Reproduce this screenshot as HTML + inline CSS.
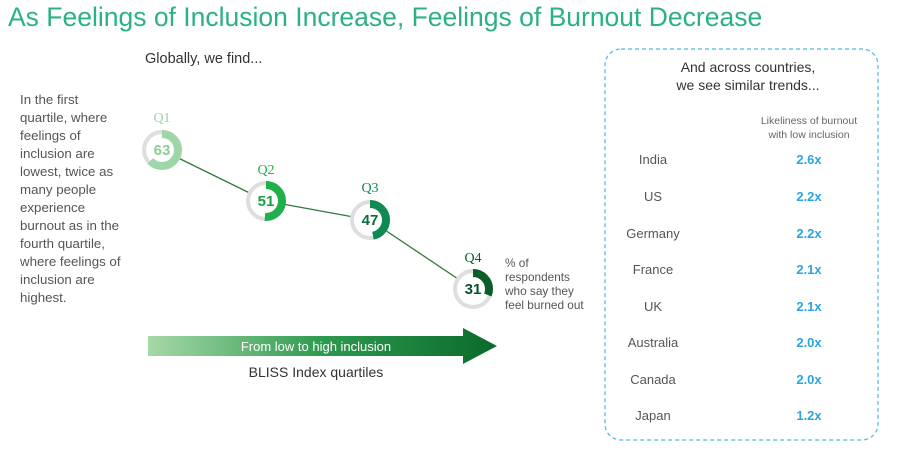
<!DOCTYPE html>
<html><head><meta charset="utf-8"><style>
body{margin:0;width:900px;height:452px;background:#fff;overflow:hidden;font-family:"Liberation Sans",sans-serif}
</style></head><body>
<svg width="900" height="452" xmlns="http://www.w3.org/2000/svg" font-family="Liberation Sans, sans-serif">
<defs>
<linearGradient id="g" x1="0" x2="1"><stop offset="0" stop-color="#a6d8a8"/><stop offset="0.5" stop-color="#2e9a4e"/><stop offset="1" stop-color="#0b6a2c"/></linearGradient>
</defs>
<text x="8" y="26" font-size="26.5" fill="#2bb088">As Feelings of Inclusion Increase, Feelings of Burnout Decrease</text>
<text x="145" y="63" font-size="14.5" fill="#333">Globally, we find...</text>
<g font-size="13.3" fill="#555">
<text x="20" y="104">In the first</text><text x="20" y="122">quartile, where</text><text x="20" y="140">feelings of</text><text x="20" y="158">inclusion are</text><text x="20" y="176">lowest, twice as</text><text x="20" y="194">many people</text><text x="20" y="212">experience</text><text x="20" y="230">burnout as in the</text><text x="20" y="248">fourth quartile,</text><text x="20" y="266">where feelings of</text><text x="20" y="284">inclusion are</text><text x="20" y="302">highest.</text>
</g>
<g stroke="#2d7a3e" stroke-width="1.3">
<line x1="162" y1="150" x2="266" y2="201"/><line x1="266" y1="201" x2="370" y2="220"/><line x1="370" y1="220" x2="473" y2="289"/>
</g>
<g stroke-width="8" fill="#fff">
<circle cx="162" cy="150" r="16" stroke="#dedede"/>
<circle cx="162" cy="150" r="16" stroke="#9fd6a7" stroke-dasharray="63.3 200" transform="rotate(-90 162 150)"/>
<circle cx="266" cy="201" r="16" stroke="#dedede"/>
<circle cx="266" cy="201" r="16" stroke="#1fb04c" stroke-dasharray="51.3 200" transform="rotate(-90 266 201)"/>
<circle cx="370" cy="220" r="16" stroke="#dedede"/>
<circle cx="370" cy="220" r="16" stroke="#0e8a52" stroke-dasharray="47.2 200" transform="rotate(-90 370 220)"/>
<circle cx="473" cy="289" r="16" stroke="#dedede"/>
<circle cx="473" cy="289" r="16" stroke="#0a5e2a" stroke-dasharray="31.2 200" transform="rotate(-90 473 289)"/>
</g>
<g font-size="15" font-weight="bold" text-anchor="middle">
<text x="162" y="155" fill="#8ccf96">63</text>
<text x="266" y="206" fill="#1a9e44">51</text>
<text x="370" y="225" fill="#0b6e40">47</text>
<text x="473" y="294" fill="#0a5028">31</text>
</g>
<g font-size="14" text-anchor="middle" font-family="Liberation Serif, serif">
<text x="162" y="122" fill="#9fd6a7">Q1</text>
<text x="266" y="174" fill="#1fb04c">Q2</text>
<text x="370" y="192" fill="#0e8a52">Q3</text>
<text x="473" y="262" fill="#0a5e2a">Q4</text>
</g>
<g font-size="11.8" fill="#555">
<text x="505" y="267">% of</text><text x="505" y="281">respondents</text><text x="505" y="295">who say they</text><text x="505" y="309">feel burned out</text>
</g>
<polygon points="148,336 463,336 463,328 497,346 463,364 463,356 148,356" fill="url(#g)"/>
<text x="316" y="351" font-size="13" fill="#fff" text-anchor="middle">From low to high inclusion</text>
<text x="316" y="377" font-size="14" fill="#333" text-anchor="middle">BLISS Index quartiles</text>
<rect x="605" y="49" width="273" height="391" rx="16" fill="none" stroke="#4fb6e0" stroke-width="1.2" stroke-dasharray="4 3"/>
<g font-size="14" fill="#333" text-anchor="middle"><text x="748" y="72">And across countries,</text><text x="748" y="90">we see similar trends...</text></g>
<g font-size="10.5" fill="#666" text-anchor="middle"><text x="809" y="124">Likeliness of burnout</text><text x="809" y="138">with low inclusion</text></g>
<g font-size="13" fill="#555" text-anchor="middle">
<text x="653" y="164">India</text><text x="653" y="201">US</text><text x="653" y="238">Germany</text><text x="653" y="274">France</text><text x="653" y="311">UK</text><text x="653" y="347">Australia</text><text x="653" y="384">Canada</text><text x="653" y="420">Japan</text>
</g>
<g font-size="13" font-weight="bold" fill="#2aa5e0" text-anchor="middle">
<text x="809" y="164">2.6x</text><text x="809" y="201">2.2x</text><text x="809" y="238">2.2x</text><text x="809" y="274">2.1x</text><text x="809" y="311">2.1x</text><text x="809" y="347">2.0x</text><text x="809" y="384">2.0x</text><text x="809" y="420">1.2x</text>
</g>
</svg>
</body></html>
